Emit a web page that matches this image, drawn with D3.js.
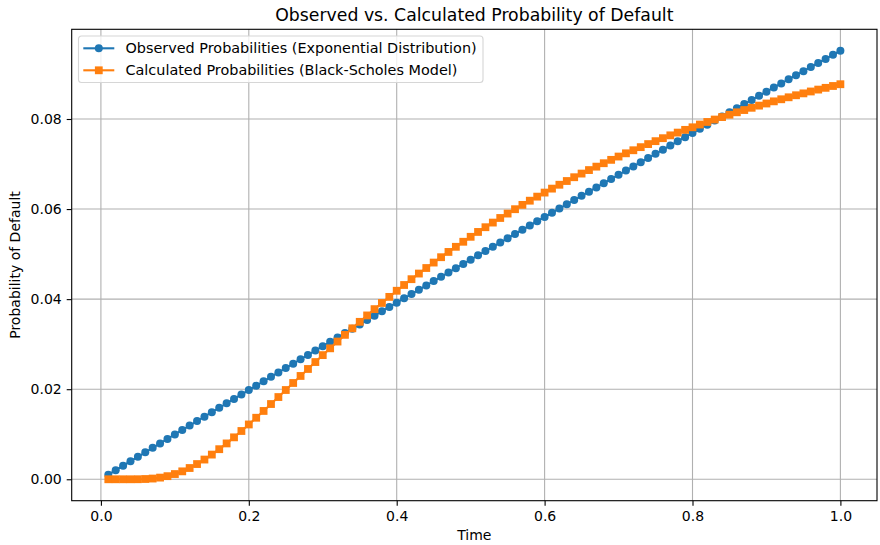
<!DOCTYPE html>
<html>
<head>
<meta charset="utf-8">
<script src="https://cdn.jsdelivr.net/npm/d3@7"></script>
<style>
    body { margin: 0; background: #fff; }
    svg { font-family: "DejaVu Sans", sans-serif; display: block; }
</style>
</head>
<body>
<svg id="chart"></svg>
<script>
// time steps (x categories)
var times = [
    0.01, 0.02, 0.03, 0.04, 0.05, 0.06, 0.07, 0.08, 0.09, 0.10,
    0.11, 0.12, 0.13, 0.14, 0.15, 0.16, 0.17, 0.18, 0.19, 0.20,
    0.21, 0.22, 0.23, 0.24, 0.25, 0.26, 0.27, 0.28, 0.29, 0.30,
    0.31, 0.32, 0.33, 0.34, 0.35, 0.36, 0.37, 0.38, 0.39, 0.40,
    0.41, 0.42, 0.43, 0.44, 0.45, 0.46, 0.47, 0.48, 0.49, 0.50,
    0.51, 0.52, 0.53, 0.54, 0.55, 0.56, 0.57, 0.58, 0.59, 0.60,
    0.61, 0.62, 0.63, 0.64, 0.65, 0.66, 0.67, 0.68, 0.69, 0.70,
    0.71, 0.72, 0.73, 0.74, 0.75, 0.76, 0.77, 0.78, 0.79, 0.80,
    0.81, 0.82, 0.83, 0.84, 0.85, 0.86, 0.87, 0.88, 0.89, 0.90,
    0.91, 0.92, 0.93, 0.94, 0.95, 0.96, 0.97, 0.98, 0.99, 1.00
];

var observed = [
    0.00100, 0.00200, 0.00300, 0.00400, 0.00499, 0.00598, 0.00698, 0.00797, 0.00896, 0.00995,
    0.01094, 0.01193, 0.01292, 0.01390, 0.01489, 0.01587, 0.01686, 0.01784, 0.01882, 0.01980,
    0.02078, 0.02176, 0.02274, 0.02372, 0.02469, 0.02567, 0.02664, 0.02761, 0.02858, 0.02955,
    0.03052, 0.03149, 0.03246, 0.03343, 0.03439, 0.03536, 0.03632, 0.03729, 0.03825, 0.03921,
    0.04017, 0.04113, 0.04209, 0.04305, 0.04400, 0.04496, 0.04591, 0.04687, 0.04782, 0.04877,
    0.04972, 0.05067, 0.05162, 0.05257, 0.05351, 0.05446, 0.05541, 0.05635, 0.05729, 0.05824,
    0.05918, 0.06012, 0.06106, 0.06200, 0.06293, 0.06387, 0.06481, 0.06574, 0.06667, 0.06761,
    0.06854, 0.06947, 0.07040, 0.07133, 0.07226, 0.07319, 0.07411, 0.07504, 0.07596, 0.07688,
    0.07781, 0.07873, 0.07965, 0.08057, 0.08149, 0.08241, 0.08332, 0.08424, 0.08516, 0.08607,
    0.08699, 0.08790, 0.08881, 0.08972, 0.09063, 0.09154, 0.09244, 0.09335, 0.09426, 0.09516
];

var calculated = [
    0.00000, 0.00000, 0.00000, 0.00000, 0.00001, 0.00006, 0.00016, 0.00037, 0.00069, 0.00116,
    0.00176, 0.00250, 0.00338, 0.00438, 0.00548, 0.00668, 0.00796, 0.00931, 0.01072, 0.01217,
    0.01366, 0.01517, 0.01671, 0.01826, 0.01982, 0.02138, 0.02294, 0.02449, 0.02603, 0.02757,
    0.02908, 0.03058, 0.03207, 0.03352, 0.03496, 0.03638, 0.03778, 0.03915, 0.04050, 0.04186,
    0.04314, 0.04443, 0.04568, 0.04691, 0.04812, 0.04931, 0.05048, 0.05162, 0.05274, 0.05384,
    0.05492, 0.05597, 0.05700, 0.05802, 0.05900, 0.05997, 0.06093, 0.06186, 0.06276, 0.06366,
    0.06454, 0.06540, 0.06623, 0.06707, 0.06788, 0.06866, 0.06942, 0.07018, 0.07093, 0.07166,
    0.07238, 0.07306, 0.07375, 0.07443, 0.07508, 0.07574, 0.07637, 0.07698, 0.07759, 0.07816,
    0.07877, 0.07934, 0.07988, 0.08043, 0.08095, 0.08149, 0.08199, 0.08249, 0.08297, 0.08344,
    0.08392, 0.08438, 0.08482, 0.08527, 0.08569, 0.08611, 0.08653, 0.08692, 0.08733, 0.08772
];

var seriesNames = [
    'Observed Probabilities (Exponential Distribution)',
    'Calculated Probabilities (Black-Scholes Model)'
];
var xTicks = [0.0, 0.2, 0.4, 0.6, 0.8, 1.0];
var yTicks = [0.00, 0.02, 0.04, 0.06, 0.08];

var colors = ['#1f77b4', '#ff7f0e'];

var width = 880,
    height = 545,
    margin = { top: 29.3, left: 71.7, right: 3, bottom: 44.3 },
    innerWidth = width - margin.left - margin.right,
    innerHeight = height - margin.top - margin.bottom;

var svg = d3.select('#chart')
    .attr('width', width)
    .attr('height', height);

svg.append('rect').attr('width', width).attr('height', height).attr('fill', '#fff');

// matplotlib style 5% margins
var xExt = d3.extent(times),
    yExt = d3.extent(observed.concat(calculated)),
    xPad = (xExt[1] - xExt[0]) * 0.05,
    yPad = (yExt[1] - yExt[0]) * 0.05;

var x = d3.scaleLinear()
    .domain([xExt[0] - xPad, xExt[1] + xPad])
    .range([0, innerWidth]);

var y = d3.scaleLinear()
    .domain([yExt[0] - yPad, yExt[1] + yPad])
    .range([innerHeight, 0]);

var chart = svg.append('g')
    .attr('transform', 'translate(' + margin.left + ',' + margin.top + ')');

// grid
chart.append('g').selectAll('line.vgrid')
    .data(xTicks).enter().append('line')
    .attr('x1', function (d) { return x(d); })
    .attr('x2', function (d) { return x(d); })
    .attr('y1', 0).attr('y2', innerHeight)
    .attr('stroke', '#b0b0b0').attr('stroke-width', 1.1);

chart.append('g').selectAll('line.hgrid')
    .data(yTicks).enter().append('line')
    .attr('y1', function (d) { return y(d); })
    .attr('y2', function (d) { return y(d); })
    .attr('x1', 0).attr('x2', innerWidth)
    .attr('stroke', '#b0b0b0').attr('stroke-width', 1.1);

// series
var series = [observed, calculated];
var line = d3.line()
    .x(function (d, i) { return x(times[i]); })
    .y(function (d) { return y(d); });

var circleR = 4, squareS = 7.8;

series.forEach(function (vals, s) {
    var g = chart.append('g');
    g.append('path')
        .datum(vals)
        .attr('d', line)
        .attr('fill', 'none')
        .attr('stroke', colors[s])
        .attr('stroke-width', 2.1);

    if (s === 0) {
        g.selectAll('circle').data(vals).enter().append('circle')
            .attr('cx', function (d, i) { return x(times[i]); })
            .attr('cy', function (d) { return y(d); })
            .attr('r', circleR)
            .attr('fill', colors[s]);
    } else {
        g.selectAll('rect').data(vals).enter().append('rect')
            .attr('x', function (d, i) { return x(times[i]) - squareS / 2; })
            .attr('y', function (d) { return y(d) - squareS / 2; })
            .attr('width', squareS)
            .attr('height', squareS)
            .attr('fill', colors[s]);
    }
});

// axes
var xAxis = d3.axisBottom(x).tickValues(xTicks).tickFormat(d3.format('.1f'))
    .tickSizeInner(5).tickSizeOuter(0).tickPadding(5);
var yAxis = d3.axisLeft(y).tickValues(yTicks).tickFormat(d3.format('.2f'))
    .tickSizeInner(5).tickSizeOuter(0).tickPadding(5);

var gx = chart.append('g')
    .attr('transform', 'translate(0,' + innerHeight + ')')
    .call(xAxis);
var gy = chart.append('g').call(yAxis);

[gx, gy].forEach(function (g) {
    g.select('.domain').remove();
    g.selectAll('.tick line').attr('stroke', '#000').attr('stroke-width', 1.1);
    g.selectAll('.tick text')
        .attr('fill', '#000')
        .style('font-size', '14px')
        .style('font-family', '"DejaVu Sans", sans-serif');
});

// frame
chart.append('rect')
    .attr('x', 0).attr('y', 0)
    .attr('width', innerWidth).attr('height', innerHeight)
    .attr('fill', 'none')
    .attr('stroke', '#000')
    .attr('stroke-width', 1.1);

// title and labels
svg.append('text')
    .attr('x', margin.left + innerWidth / 2)
    .attr('y', 21)
    .attr('text-anchor', 'middle')
    .style('font-size', '17.3px')
    .text('Observed vs. Calculated Probability of Default');

svg.append('text')
    .attr('x', margin.left + innerWidth / 2)
    .attr('y', 540)
    .attr('text-anchor', 'middle')
    .style('font-size', '14px')
    .text('Time');

svg.append('text')
    .attr('transform', 'translate(20,' + (margin.top + innerHeight / 2) + ') rotate(-90)')
    .attr('text-anchor', 'middle')
    .style('font-size', '14px')
    .text('Probability of Default');

// legend
var legend = chart.append('g')
    .attr('transform', 'translate(6.8,6.7)');

legend.append('rect')
    .attr('x', 0).attr('y', 0)
    .attr('width', 404.5).attr('height', 46.5)
    .attr('rx', 3)
    .attr('fill', '#fff').attr('fill-opacity', 0.8)
    .attr('stroke', '#d6d6d6').attr('stroke-width', 1.1);

seriesNames.forEach(function (name, s) {
    var row = legend.append('g')
        .attr('transform', 'translate(0,' + (12.3 + s * 22) + ')');
    row.append('line')
        .attr('x1', 4.8).attr('x2', 35.8)
        .attr('y1', 0).attr('y2', 0)
        .attr('stroke', colors[s]).attr('stroke-width', 2.1);
    if (s === 0) {
        row.append('circle').attr('cx', 20.3).attr('cy', 0).attr('r', circleR).attr('fill', colors[s]);
    } else {
        row.append('rect').attr('x', 20.3 - squareS / 2).attr('y', -squareS / 2)
            .attr('width', squareS).attr('height', squareS).attr('fill', colors[s]);
    }
    row.append('text')
        .attr('x', 47)
        .attr('y', 0)
        .attr('dy', '0.36em')
        .style('font-size', '14.4px')
        .text(name);
});
</script>
</body>
</html>
